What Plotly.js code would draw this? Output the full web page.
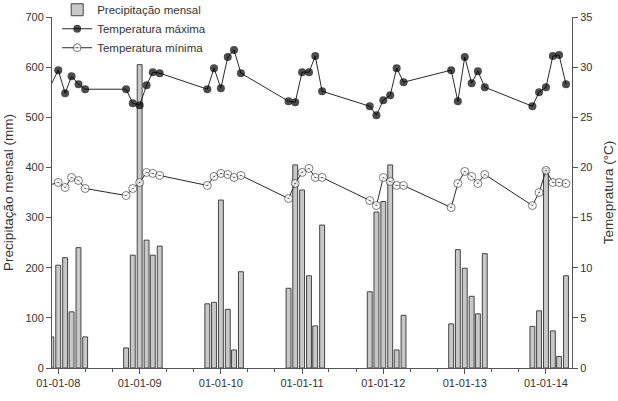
<!DOCTYPE html>
<html>
<head>
<meta charset="utf-8">
<script src="https://cdn.plot.ly/plotly-3.0.1.min.js"></script>
<style>html,body{margin:0;padding:0;background:#fff;}#chart{width:618px;height:401px;}</style>
</head>
<body>
<div id="chart"></div>
<script>
// Months (first day of month) for each sampled season
const months = [
  '2007-12-01','2008-01-01','2008-02-01','2008-03-01','2008-04-01','2008-05-01',
  '2008-11-01','2008-12-01','2009-01-01','2009-02-01','2009-03-01','2009-04-01',
  '2009-11-01','2009-12-01','2010-01-01','2010-02-01','2010-03-01','2010-04-01',
  '2010-11-01','2010-12-01','2011-01-01','2011-02-01','2011-03-01','2011-04-01',
  '2011-11-01','2011-12-01','2012-01-01','2012-02-01','2012-03-01','2012-04-01',
  '2012-11-01','2012-12-01','2013-01-01','2013-02-01','2013-03-01','2013-04-01',
  '2013-11-01','2013-12-01','2014-01-01','2014-02-01','2014-03-01','2014-04-01'
];
// Monthly precipitation (mm)
const precipitacao = [
  62, 205, 220, 112, 240, 62,
  40, 225, 605, 255, 225, 243,
  128, 131, 335, 117, 36, 192,
  159, 405, 355, 184, 84, 285,
  152, 311, 332, 405, 36, 105,
  88, 236, 199, 143, 108, 228,
  83, 114, 398, 74, 23, 184
];
// Maximum temperature (°C)
const tempMax = [
  28.3, 29.7, 27.4, 29.1, 28.3, 27.8,
  27.8, 26.4, 26.2, 28.2, 29.5, 29.4,
  27.8, 29.9, 27.9, 31.0, 31.7, 29.4,
  26.6, 26.5, 29.5, 29.5, 31.1, 27.6,
  26.1, 25.2, 26.7, 27.2, 29.9, 28.5,
  29.7, 26.6, 31.0, 28.4, 29.6, 28.0,
  26.1, 27.5, 28.0, 31.1, 31.2, 28.3
];
// Minimum temperature (°C)
const tempMin = [
  18.3, 18.5, 18.0, 19.0, 18.7, 17.9,
  17.2, 17.9, 18.5, 19.5, 19.4, 19.2,
  18.2, 19.1, 19.4, 19.3, 19.0, 19.2,
  16.9, 18.4, 19.5, 19.9, 19.0, 19.0,
  16.7, 16.2, 19.0, 18.6, 18.2, 18.2,
  16.0, 18.4, 19.6, 19.1, 18.4, 19.3,
  16.2, 17.5, 19.7, 18.5, 18.5, 18.4
];
const xTickLabels = ['01-01-08','01-01-09','01-01-10','01-01-11','01-01-12','01-01-13','01-01-14'];
const xTickDates = ['2008-01-01','2009-01-01','2010-01-01','2011-01-01','2012-01-01','2013-01-01','2014-01-01'];

const xRange = ['2007-12-04', '2014-04-28'];
const DAY = 86400000;
const visible = d => new Date(d) >= new Date(xRange[0]);
const sizesMax = months.map(d => visible(d) ? 8 : 0);
const sizesMin = months.map(d => visible(d) ? 8 : 0);

const txt = '#333333';
const axc = '#555555';

const traces = [
  {
    type: 'bar', name: 'Precipitação mensal', x: months, y: precipitacao,
    width: months.map(() => 22 * DAY),
    marker: {color: '#c8c8c8', line: {color: '#444444', width: 1}},
    yaxis: 'y'
  },
  {
    type: 'scatter', mode: 'lines+markers', name: 'Temperatura máxima',
    x: months, y: tempMax, yaxis: 'y2',
    line: {color: '#2a2a2a', width: 1},
    marker: {color: '#000000', size: sizesMax, symbol: 'circle', line: {width: 0}}
  },
  {
    type: 'scatter', mode: 'lines+markers', name: 'Temperatura mínima',
    x: months, y: tempMin, yaxis: 'y2',
    line: {color: '#2a2a2a', width: 1},
    marker: {color: '#ffffff', size: sizesMin, symbol: 'circle-dot', line: {color: '#444444', width: 1}}
  }
];

const layout = {
  width: 618, height: 401,
  margin: {l: 52, r: 46, t: 17, b: 33, autoexpand: false},
  paper_bgcolor: '#ffffff', plot_bgcolor: '#ffffff',
  font: {family: '"Liberation Sans", Arial, sans-serif', size: 11, color: txt},
  showlegend: true,
  bargap: 0,
  legend: {x: 0.01, y: 1.062, xanchor: 'left', yanchor: 'top', bgcolor: 'rgba(0,0,0,0)',
           font: {size: 11.5, color: txt}, itemwidth: 30, tracegroupgap: 0},
  xaxis: {
    type: 'date', range: xRange,
    tickvals: xTickDates, ticktext: xTickLabels,
    ticks: 'outside', ticklen: 5, tickcolor: axc, tickwidth: 1,
    showline: true, linecolor: axc, linewidth: 1, showgrid: false, zeroline: false,
    tickfont: {size: 11, color: txt},
    minor: {dtick: 'M4', tick0: '2008-01-01', ticks: 'outside', ticklen: 3, tickcolor: axc, showgrid: false}
  },
  yaxis: {
    range: [0, 700], dtick: 100, ticks: 'outside', ticklen: 5, tickcolor: axc,
    showline: true, linecolor: axc, linewidth: 1, showgrid: false, zeroline: false,
    tickfont: {size: 11, color: txt},
    title: {text: 'Precipitação mensal (mm)', font: {size: 13.5, color: txt}, standoff: 8}
  },
  yaxis2: {
    overlaying: 'y', side: 'right', range: [0, 35], dtick: 5,
    ticks: 'outside', ticklen: 5, tickcolor: axc,
    showline: true, linecolor: axc, linewidth: 1, showgrid: false, zeroline: false,
    tickfont: {size: 11, color: txt},
    title: {text: 'Temepratura (°C)', font: {size: 13.5, color: txt}, standoff: 12}
  }
};

Plotly.newPlot('chart', traces, layout, {displayModeBar: false, staticPlot: true});
</script>
</body>
</html>
